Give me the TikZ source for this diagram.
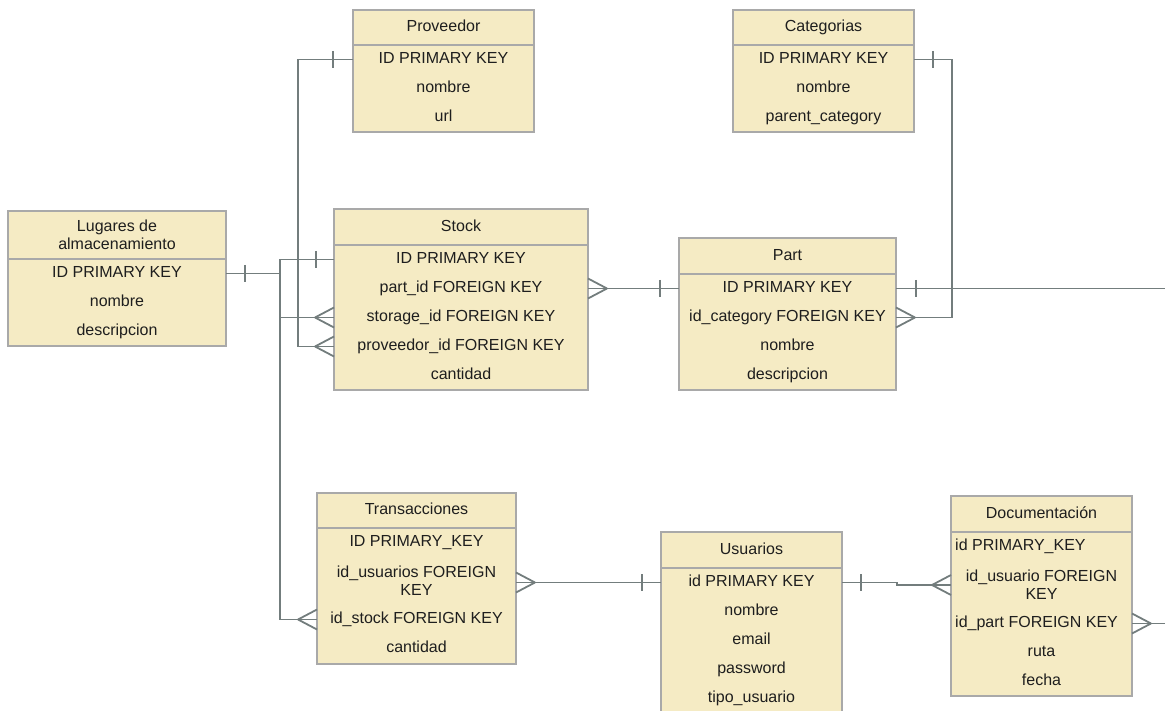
\documentclass[tikz,border=0pt]{standalone}
\usepackage{fontspec}
\setmainfont{Liberation Sans}
\usetikzlibrary{calc}

\definecolor{cellfill}{HTML}{F5EBC4}
\definecolor{cellline}{HTML}{A9A9A9}
\definecolor{linkline}{HTML}{737D7D}
\definecolor{ink}{HTML}{1E1E1E}

\tikzset{
  tbl/.style={draw=cellline, fill=cellfill, line width=1.5pt, inner sep=0pt, outer sep=0pt},
  row/.style={inner sep=0pt, text=ink, font=\fontsize{16pt}{18pt}\selectfont,
              text height=12pt, text depth=3.6pt},
  row2/.style={inner sep=0pt, text=ink, font=\fontsize{16pt}{18pt}\selectfont, align=center},
  conn/.style={draw=linkline, line width=1.8pt},
  % many-side marker opening towards a table on the right / left
  crowW/.pic={\draw[conn] (-19,0) -- (0,-10) (-19,0) -- (0,10);},
  crowE/.pic={\draw[conn] (19,0) -- (0,-10) (19,0) -- (0,10);},
  % one-side marker
  onebar/.pic={\draw[conn] (0,-8.5) -- (0,8.5);}
}

\begin{document}
\begin{tikzpicture}[x=1pt, y=-1pt]
\useasboundingbox (0,0) rectangle (1165,711);
\clip (0,0) rectangle (1165,711);

% ---------- Proveedor ----------
\node[tbl, minimum width=181pt, minimum height=122pt] (prov) at (443.5,71) {};
\node[tbl, row, minimum width=181pt, minimum height=35pt, anchor=north] (prov-h) at (prov.north) {Proveedor};
\node[row] (prov-id)  at (443.5,59.5)  {ID PRIMARY KEY};
\node[row] (prov-nom) at (443.5,88.5)  {nombre};
\node[row] (prov-url) at (443.5,117.5) {url};

% ---------- Categorias ----------
\node[tbl, minimum width=181pt, minimum height=122pt] (cat) at (823.5,71) {};
\node[tbl, row, minimum width=181pt, minimum height=35pt, anchor=north] (cat-h) at (cat.north) {Categorias};
\node[row] (cat-id)  at (823.5,59.5)  {ID PRIMARY KEY};
\node[row] (cat-nom) at (823.5,88.5)  {nombre};
\node[row] (cat-par) at (823.5,117.5) {parent\_category};

% ---------- Lugares de almacenamiento ----------
\node[tbl, minimum width=218pt, minimum height=135pt] (lug) at (117,278.5) {};
\node[tbl, row2, minimum width=218pt, minimum height=48pt, anchor=north] (lug-h) at (lug.north) {Lugares de\\almacenamiento};
\node[row] (lug-id)   at (117,273.5) {ID PRIMARY KEY};
\node[row] (lug-nom)  at (117,302.5) {nombre};
\node[row] (lug-desc) at (117,331.5) {descripcion};

% ---------- Stock ----------
\node[tbl, minimum width=254pt, minimum height=181pt] (stock) at (461,299.5) {};
\node[tbl, row, minimum width=254pt, minimum height=36pt, anchor=north] (stock-h) at (stock.north) {Stock};
\node[row] (stk-id)   at (461,259.5) {ID PRIMARY KEY};
\node[row] (stk-part) at (461,288.5) {part\_id FOREIGN KEY};
\node[row] (stk-stor) at (461,317.5) {storage\_id FOREIGN KEY};
\node[row] (stk-prov) at (461,346.5) {proveedor\_id FOREIGN KEY};
\node[row] (stk-cant) at (461,375.5) {cantidad};

% ---------- Part ----------
\node[tbl, minimum width=217pt, minimum height=152pt] (part) at (787.5,314) {};
\node[tbl, row, minimum width=217pt, minimum height=36pt, anchor=north] (part-h) at (part.north) {Part};
\node[row] (part-id)   at (787.5,288.5) {ID PRIMARY KEY};
\node[row] (part-cat)  at (787.5,317.5) {id\_category FOREIGN KEY};
\node[row] (part-nom)  at (787.5,346.5) {nombre};
\node[row] (part-desc) at (787.5,375.5) {descripcion};

% ---------- Transacciones ----------
\node[tbl, minimum width=199pt, minimum height=171pt] (tra) at (416.5,578.5) {};
\node[tbl, row, minimum width=199pt, minimum height=35pt, anchor=north] (tra-h) at (tra.north) {Transacciones};
\node[row]  (tra-id)    at (416.5,542.5) {ID PRIMARY\_KEY};
\node[row2] (tra-usu)   at (416.5,581)   {id\_usuarios FOREIGN\\KEY};
\node[row]  (tra-stock) at (416.5,619.5) {id\_stock FOREIGN KEY};
\node[row]  (tra-cant)  at (416.5,648.5) {cantidad};

% ---------- Usuarios ----------
\node[tbl, minimum width=181pt, minimum height=193pt] (usu) at (751.5,628.5) {};
\node[tbl, row, minimum width=181pt, minimum height=36pt, anchor=north] (usu-h) at (usu.north) {Usuarios};
\node[row] (usu-id)   at (751.5,582.5) {id PRIMARY KEY};
\node[row] (usu-nom)  at (751.5,611.5) {nombre};
\node[row] (usu-mail) at (751.5,640.5) {email};
\node[row] (usu-pass) at (751.5,669.5) {password};
\node[row] (usu-tipo) at (751.5,698.5) {tipo\_usuario};

% ---------- Documentación ----------
\node[tbl, minimum width=181pt, minimum height=200pt] (doc) at (1041.5,596) {};
\node[tbl, row, minimum width=181pt, minimum height=36pt, anchor=north] (doc-h) at (doc.north) {Documentación};
\node[row, anchor=west] (doc-id)   at (955,546.5)   {id PRIMARY\_KEY};
\node[row2]             (doc-usu)  at (1041.5,585)  {id\_usuario FOREIGN\\KEY};
\node[row, anchor=west] (doc-part) at (955,623.5)   {id\_part FOREIGN KEY};
\node[row]              (doc-ruta) at (1041.5,652.5) {ruta};
\node[row]              (doc-fecha) at (1041.5,681.5) {fecha};

% ---------- Relationships ----------
% Proveedor 1 -- n Stock.proveedor_id
\draw[conn] (prov.west |- prov-id) -- ++(-55,0) |- (stock.west |- stk-prov);
\pic at ($(prov.west |- prov-id)+(-20,0)$) {onebar};
\pic at (stock.west |- stk-prov) {crowW};

% Lugares 1 -- n Stock.storage_id
\draw[conn] (lug.east |- lug-id) -- ++(54,0) |- (stock.west |- stk-stor);
\pic at ($(lug.east |- lug-id)+(19,0)$) {onebar};
\pic at (stock.west |- stk-stor) {crowW};

% Stock 1 -- n Transacciones.id_stock
\draw[conn] (stock.west |- stk-id) -- ++(-54,0) |- (tra.west |- tra-stock);
\pic at ($(stock.west |- stk-id)+(-18,0)$) {onebar};
\pic at (tra.west |- tra-stock) {crowW};

% Part 1 -- n Stock.part_id
\draw[conn] (stock.east |- stk-part) -- (part.west |- part-id);
\pic at ($(part.west |- part-id)+(-19,0)$) {onebar};
\pic at (stock.east |- stk-part) {crowE};

% Categorias 1 -- n Part.id_category
\draw[conn] (cat.east |- cat-id) -- ++(38,0) |- (part.east |- part-cat);
\pic at ($(cat.east |- cat-id)+(19,0)$) {onebar};
\pic at (part.east |- part-cat) {crowE};

% Part 1 -- n Documentación.id_part
\draw[conn] (part.east |- part-id) -- ++(300,0) |- (doc.east |- doc-part);
\pic at ($(part.east |- part-id)+(20,0)$) {onebar};
\pic at (doc.east |- doc-part) {crowE};

% Usuarios 1 -- n Transacciones.id_usuarios
\draw[conn] (tra.east |- usu-id) -- (usu.west |- usu-id);
\pic at ($(usu.west |- usu-id)+(-19,0)$) {onebar};
\pic at (tra.east |- usu-id) {crowE};

% Usuarios 1 -- n Documentación.id_usuario
\draw[conn] (usu.east |- usu-id) -- ++(55,0) |- (doc.west |- doc-usu);
\pic at ($(usu.east |- usu-id)+(19,0)$) {onebar};
\pic at (doc.west |- doc-usu) {crowW};

\end{tikzpicture}
\end{document}
